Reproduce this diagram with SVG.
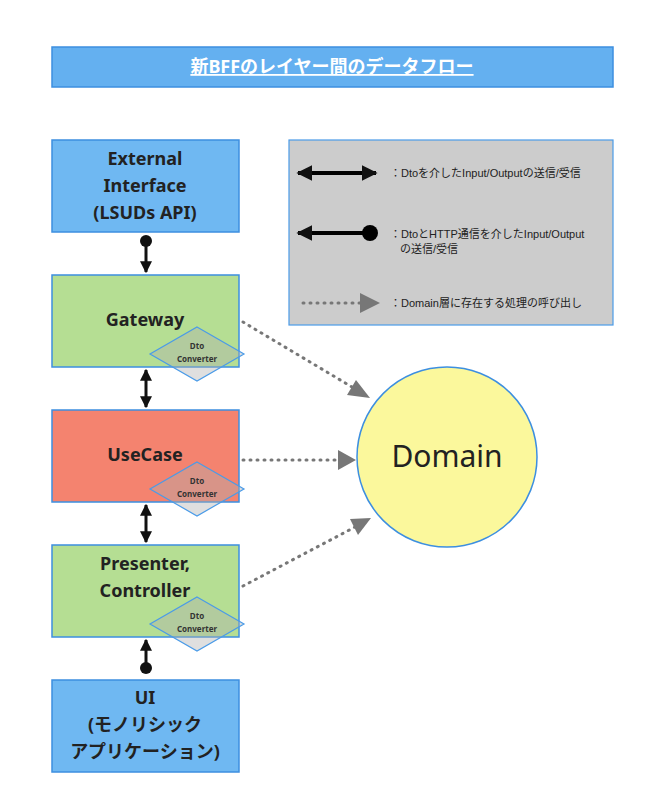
<svg xmlns="http://www.w3.org/2000/svg" width="653" height="800" viewBox="0 0 653 800">
<style>
text{font-family:"Noto Sans","Noto Sans CJK JP",sans-serif;text-anchor:middle}
.box{stroke:#3d8fe0;stroke-width:1.5}
.lbl{font-size:18px;font-weight:bold;fill:#222}
.dia{fill:#b0b0b0;fill-opacity:0.4;stroke:#4a9be8;stroke-width:1.2}
.dt{font-size:8px;font-weight:bold;fill:#333}
.leg{font-size:11px;fill:#222;text-anchor:start;font-family:"Liberation Sans","Noto Sans CJK JP",sans-serif}
.dot{stroke:#777;stroke-width:3;stroke-dasharray:1 6;stroke-linecap:round;fill:none}
</style>
<defs>
<marker id="ah" viewBox="0 0 10 10" refX="9" refY="5" markerWidth="4" markerHeight="4" orient="auto-start-reverse"><path d="M0,0L10,5L0,10z" fill="#111"/></marker>
<marker id="gh" viewBox="0 0 10 10" refX="9" refY="5" markerWidth="7" markerHeight="7" markerUnits="userSpaceOnUse" orient="auto"><path d="M0,0L10,5L0,10z" fill="#777"/></marker>
</defs>
<rect width="653" height="800" fill="#fff"/>
<g id="title"><rect x="52" y="47" width="561" height="40" fill="#64b0f0" class="box"/><text x="332" y="73" font-size="18" font-weight="bold" fill="#fff" text-decoration="underline">新BFFのレイヤー間のデータフロー</text></g>
<g id="external"><rect x="52" y="140" width="187" height="92" fill="#6fb8f2" class="box"/><text class="lbl" x="145" y="165">External</text><text class="lbl" x="145" y="192">Interface</text><text class="lbl" x="145" y="219">(LSUDs API)</text></g>
<g id="gateway"><rect x="52" y="275" width="187" height="92" fill="#b5de93" class="box"/><text class="lbl" x="145" y="326">Gateway</text><path class="dia" d="M197,327L244,354L197,381L150,354z"/><text class="dt" x="197" y="349">Dto</text><text class="dt" x="197" y="362">Converter</text></g>
<g id="usecase"><rect x="52" y="410" width="187" height="92" fill="#f4836f" class="box"/><text class="lbl" x="145" y="461">UseCase</text><path class="dia" d="M197,462L244,489L197,516L150,489z"/><text class="dt" x="197" y="484">Dto</text><text class="dt" x="197" y="497">Converter</text></g>
<g id="presenter"><rect x="52" y="545" width="187" height="92" fill="#b5de93" class="box"/><text class="lbl" x="145" y="570">Presenter,</text><text class="lbl" x="145" y="597">Controller</text><path class="dia" d="M197,597L244,624L197,651L150,624z"/><text class="dt" x="197" y="619">Dto</text><text class="dt" x="197" y="632">Converter</text></g>
<g id="ui"><rect x="52" y="680" width="187" height="92" fill="#6fb8f2" class="box"/><text class="lbl" x="145" y="704">UI</text><text class="lbl" x="145" y="731">(モノリシック</text><text class="lbl" x="145" y="758">アプリケーション)</text></g>
<g id="domain"><circle cx="447" cy="457" r="90" fill="#fbf89c" stroke="#3d8fe0" stroke-width="1.5"/><text x="447" y="467" font-size="30" fill="#222">Domain</text></g>
<g id="legend"><rect x="289" y="140" width="324" height="185" fill="#cccccc" stroke="#4a9be8" stroke-width="1.2"/>
<line x1="298" y1="173" x2="376" y2="173" stroke="#000" stroke-width="4" marker-start="url(#ah)" marker-end="url(#ah)"/>
<text class="leg" x="390" y="177">：Dtoを介したInput/Outputの送信/受信</text>
<line x1="298" y1="233" x2="368" y2="233" stroke="#000" stroke-width="4" marker-start="url(#ah)"/><circle cx="370" cy="233" r="8" fill="#000"/>
<text class="leg" x="390" y="238">：DtoとHTTP通信を介したInput/Output</text><text class="leg" x="400" y="253">の送信/受信</text>
<line class="dot" x1="303" y1="303" x2="370" y2="303" stroke-width="3"/><path d="M360,293L380,303L360,313z" fill="#777"/>
<text class="leg" x="390" y="307">：Domain層に存在する処理の呼び出し</text></g>
<g id="connectors">
<circle cx="146" cy="241" r="6" fill="#111"/><line x1="146" y1="241" x2="146" y2="272" stroke="#111" stroke-width="3" marker-end="url(#ah)"/>
<line x1="146" y1="370" x2="146" y2="407" stroke="#111" stroke-width="3" marker-start="url(#ah)" marker-end="url(#ah)"/>
<line x1="146" y1="505" x2="146" y2="542" stroke="#111" stroke-width="3" marker-start="url(#ah)" marker-end="url(#ah)"/>
<circle cx="146" cy="668" r="6" fill="#111"/><line x1="146" y1="668" x2="146" y2="640" stroke="#111" stroke-width="3" marker-end="url(#ah)"/>
<path class="dot" d="M243,322L352,387"/><path d="M347,395L370,398L356,380z" fill="#777"/>
<path class="dot" d="M243,460L340,460"/><path d="M338,450L356,460L338,470z" fill="#777"/>
<path class="dot" d="M243,586L355,527"/><path d="M350,519L371,518L358,535z" fill="#777"/>
</g>
</svg>
